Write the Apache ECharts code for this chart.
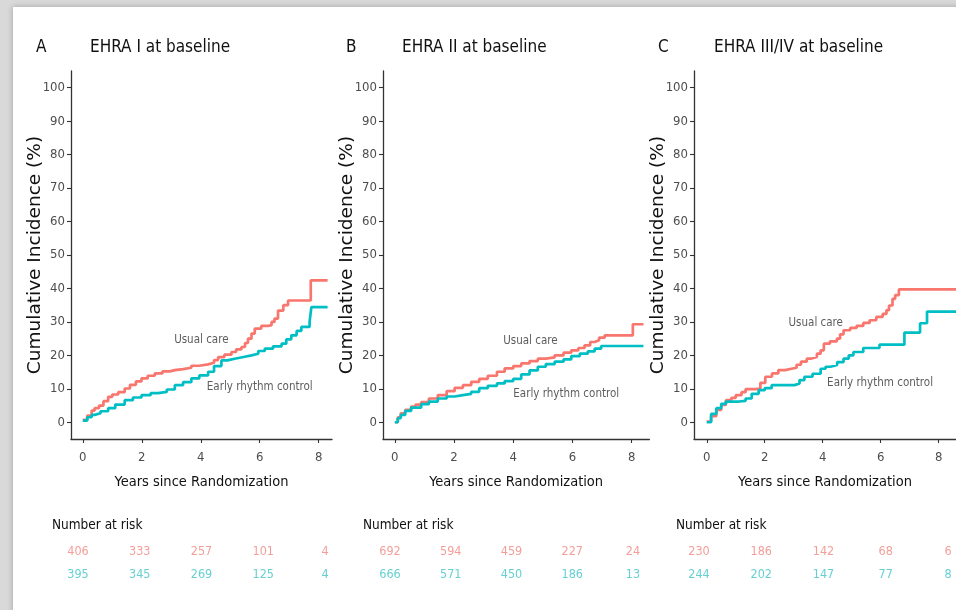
<!DOCTYPE html>
<html>
<head>
<meta charset="utf-8">
<script src="https://cdn.jsdelivr.net/npm/echarts@6/dist/echarts.min.js"></script>
<style>
html,body{margin:0;padding:0;background:#d9d9d9;}
#chart{width:956px;height:610px;}
</style>
</head>
<body>
<div id="chart"></div>
<script>
// ---------- data ----------
const xTicks = [0, 2, 4, 6, 8];
const yTicks = [0, 10, 20, 30, 40, 50, 60, 70, 80, 90, 100];
const panelLetters = ['A', 'B', 'C'];
const panelTitles = ['EHRA I at baseline', 'EHRA II at baseline', 'EHRA III/IV at baseline'];
const groupNames = ['Usual care', 'Early rhythm control'];

// Panel A – EHRA I
const aUsualTime = [0,0.15,0.3,0.4,0.55,0.7,0.86,1.0,1.2,1.42,1.6,1.8,1.99,2.2,2.44,2.7,2.95,3.12,3.4,3.68,3.95,4.25,4.45,4.59,4.8,5.04,5.2,5.38,5.5,5.6,5.72,5.83,6.05,6.28,6.4,6.5,6.62,6.8,6.96,7.73,8.3];
const aUsualPct  = [0.7,2.0,3.5,4.2,5.0,6.3,7.6,8.3,9.0,10.1,11.2,12.2,13.1,13.9,14.6,15.2,15.6,15.9,16.3,16.9,17.3,17.8,18.6,19.5,20.2,21.0,21.8,22.5,23.7,25.0,26.5,28.0,28.8,29.0,30.0,31.0,33.4,35.0,36.4,42.4,42.4];
const aEarlyTime = [0,0.15,0.3,0.4,0.6,0.86,1.1,1.42,1.7,1.99,2.3,2.55,2.85,3.12,3.4,3.68,3.95,4.25,4.45,4.7,4.9,5.15,5.45,5.72,5.95,6.17,6.45,6.74,6.9,7.07,7.25,7.41,7.69,7.75,8.3];
const aEarlyPct  = [0.5,1.5,2.2,2.7,3.3,4.2,5.3,6.6,7.4,8.1,8.7,9.1,9.8,11.1,12.0,13.1,14.0,15.1,16.8,18.5,19.0,19.5,20.0,20.5,21.3,22.0,22.7,23.5,24.8,26.0,27.3,28.5,30.0,34.4,34.4];
const aRiskUsual = [406, 333, 257, 101, 4];
const aRiskEarly = [395, 345, 269, 125, 4];

// Panel B – EHRA II
const bUsualTime = [0,0.1,0.2,0.35,0.55,0.7,0.89,1.15,1.45,1.75,2.02,2.3,2.58,2.85,3.14,3.45,3.71,4.0,4.27,4.55,4.83,5.1,5.4,5.7,5.96,6.2,6.41,6.6,6.75,6.9,7.09,8.04,8.4];
const bUsualPct  = [0,1.5,2.7,3.7,4.7,5.3,6.0,7.1,8.1,9.3,10.3,11.1,12.1,13.0,13.9,15.1,16.1,16.8,17.6,18.3,19.0,19.4,20.0,20.8,21.5,22.2,23.0,24.0,24.5,25.3,26.0,29.3,29.3];
const bEarlyTime = [0,0.1,0.2,0.35,0.55,0.89,1.15,1.45,1.75,2.02,2.3,2.58,2.85,3.14,3.45,3.71,4.0,4.27,4.55,4.83,5.1,5.4,5.7,5.96,6.25,6.52,6.75,6.97,8.4];
const bEarlyPct  = [0,1.2,2.2,3.4,4.4,5.4,6.2,7.1,7.7,8.1,8.5,9.1,10.2,10.9,11.6,12.3,13.0,14.3,15.5,16.6,17.4,18.1,18.8,19.8,20.5,21.2,22.0,22.8,22.8];
const bRiskUsual = [692, 594, 459, 227, 24];
const bRiskEarly = [666, 571, 450, 186, 13];

// Panel C – EHRA III/IV
const cUsualTime = [0,0.15,0.33,0.5,0.66,0.85,1.0,1.2,1.34,1.68,1.85,2.02,2.25,2.47,2.7,2.92,3.1,3.25,3.45,3.59,3.8,3.93,4.04,4.25,4.49,4.6,4.72,4.95,5.17,5.4,5.62,5.85,6.07,6.2,6.29,6.41,6.5,6.63,8.7];
const cUsualPct  = [0.2,1.8,3.7,5.2,6.6,7.3,8.1,9.0,9.9,10.1,11.8,13.6,14.6,15.6,16.0,16.3,17.2,18.1,19.0,19.5,20.5,21.5,23.5,24.2,25.0,26.3,27.5,28.2,28.8,29.7,30.5,31.5,32.4,33.5,34.9,36.9,38.0,39.7,39.7];
const cEarlyTime = [0,0.15,0.33,0.5,0.66,1.11,1.34,1.55,1.79,2.0,2.24,3.03,3.2,3.37,3.65,3.93,4.1,4.27,4.5,4.72,4.9,5.06,5.4,5.96,6.82,7.36,7.6,8.7];
const cEarlyPct  = [0,2.5,4.2,5.5,6.2,6.4,7.1,8.5,9.6,10.2,11.1,11.6,12.6,13.6,14.5,16.0,16.6,17.1,18.0,19.0,20.0,21.0,22.2,23.2,26.8,29.6,33.1,33.1];
const cRiskUsual = [230, 186, 142, 68, 6];
const cRiskEarly = [244, 202, 147, 77, 8];

const riskTimes = [0, 2, 4, 6, 8];

// ---------- styling / layout ----------
const RED = '#F8766D';
const TEAL = '#00BFC4';
const RED_TXT = '#F0867E';
const TEAL_TXT = '#3EC3C6';
const NARROW = "'Liberation Sans Narrow', 'DejaVu Sans Condensed', 'Liberation Sans', sans-serif";
const WIDE = "'DejaVu Sans', 'Liberation Sans', sans-serif";
const AXIS_COL = '#333333';

const panels = [
  {usualT: aUsualTime, usualV: aUsualPct, earlyT: aEarlyTime, earlyV: aEarlyPct, riskU: aRiskUsual, riskE: aRiskEarly,
   grid: {left: 71, top: 71, width: 261, height: 368}, xMin: -0.4, xMax: 8.45,
   table: {left: 78, width: 247}, letterX: 36, titleX: 90, narX: 52,
   usualLab: [4.02, 24.5], earlyLab: [6.0, 10.6]},
  {usualT: bUsualTime, usualV: bUsualPct, earlyT: bEarlyTime, earlyV: bEarlyPct, riskU: bRiskUsual, riskE: bRiskEarly,
   grid: {left: 383, top: 71, width: 266.4, height: 368}, xMin: -0.4, xMax: 8.6,
   table: {left: 390, width: 243}, letterX: 346, titleX: 402, narX: 363,
   usualLab: [4.58, 24.3], earlyLab: [5.79, 8.4]},
  {usualT: cUsualTime, usualV: cUsualPct, earlyT: cEarlyTime, earlyV: cEarlyPct, riskU: cRiskUsual, riskE: cRiskEarly,
   grid: {left: 694, top: 71, width: 267.6, height: 368}, xMin: -0.44, xMax: 8.6,
   table: {left: 699, width: 249}, letterX: 658, titleX: 714, narX: 676,
   usualLab: [3.76, 29.8], earlyLab: [5.98, 11.6]}
];

const grids = [], xAxes = [], yAxes = [], series = [], titles = [];

panels.forEach((p, i) => {
  // plot grid
  const gi = grids.length;
  grids.push(Object.assign({containLabel: false}, p.grid));
  xAxes.push({
    gridIndex: gi, type: 'value', min: p.xMin, max: p.xMax,
    axisLine: {show: true, onZero: false, lineStyle: {color: AXIS_COL, width: 1.3}},
    axisTick: {show: true, length: 4, customValues: xTicks, lineStyle: {color: AXIS_COL, width: 1.1}},
    axisLabel: {customValues: xTicks, fontSize: 13, color: '#4d4d4d', fontFamily: NARROW, margin: 12},
    splitLine: {show: false},
    name: 'Years since Randomization', nameLocation: 'middle', nameGap: 36, nameMoveOverlap: false,
    nameTextStyle: {fontSize: 14.5, color: '#111', fontFamily: NARROW}
  });
  yAxes.push({
    gridIndex: gi, type: 'value', min: -5, max: 105,
    axisLine: {show: true, onZero: false, lineStyle: {color: AXIS_COL, width: 1.3}},
    axisTick: {show: true, length: 4, customValues: yTicks, lineStyle: {color: AXIS_COL, width: 1.1}},
    axisLabel: {customValues: yTicks, fontSize: 13, color: '#4d4d4d', fontFamily: NARROW, margin: 6},
    splitLine: {show: false},
    name: 'Cumulative Incidence (%)', nameLocation: 'middle', nameGap: 26, nameMoveOverlap: false,
    nameTextStyle: {fontSize: 18.5, color: '#111', fontFamily: WIDE}
  });
  series.push({
    type: 'line', name: groupNames[0], xAxisIndex: gi, yAxisIndex: gi, step: 'end',
    showSymbol: false, symbol: 'none', silent: true,
    lineStyle: {color: RED, width: 2.7}, z: 3,
    data: p.usualT.map((t, k) => [t, p.usualV[k]])
  });
  series.push({
    type: 'line', name: groupNames[1], xAxisIndex: gi, yAxisIndex: gi, step: 'end',
    showSymbol: false, symbol: 'none', silent: true,
    lineStyle: {color: TEAL, width: 2.7}, z: 4,
    data: p.earlyT.map((t, k) => [t, p.earlyV[k]])
  });
  // in-plot annotations
  series.push({
    type: 'scatter', xAxisIndex: gi, yAxisIndex: gi, symbolSize: 0, silent: true, z: 5,
    data: [
      {value: p.usualLab, name: groupNames[0]},
      {value: p.earlyLab, name: groupNames[1]}
    ],
    label: {show: true, position: 'inside', formatter: '{b}', fontSize: 11.5, color: '#333', fontFamily: NARROW}
  });

  // number-at-risk table grid
  const ti = grids.length;
  grids.push({left: p.table.left, width: p.table.width, top: 552, height: 22.5, containLabel: false});
  xAxes.push({gridIndex: ti, type: 'value', min: 0, max: 8, show: false});
  yAxes.push({gridIndex: ti, type: 'value', min: 0, max: 1, show: false});
  series.push({
    type: 'scatter', xAxisIndex: ti, yAxisIndex: ti, symbolSize: 0, silent: true,
    data: riskTimes.map((t, k) => [t, 1, p.riskU[k]]),
    label: {show: true, position: 'inside', formatter: d => String(d.value[2]), fontSize: 12.5, color: RED_TXT, fontFamily: NARROW}
  });
  series.push({
    type: 'scatter', xAxisIndex: ti, yAxisIndex: ti, symbolSize: 0, silent: true,
    data: riskTimes.map((t, k) => [t, 0, p.riskE[k]]),
    label: {show: true, position: 'inside', formatter: d => String(d.value[2]), fontSize: 12.5, color: TEAL_TXT, fontFamily: NARROW}
  });

  // titles
  const ts = {fontSize: 17, fontWeight: 'normal', color: '#111', fontFamily: NARROW};
  titles.push({text: panelLetters[i], left: p.letterX, top: 39, padding: 0, textStyle: ts});
  titles.push({text: panelTitles[i], left: p.titleX, top: 39, padding: 0, textStyle: ts});
  titles.push({text: 'Number at risk', left: p.narX, top: 518, padding: 0,
    textStyle: {fontSize: 13.5, fontWeight: 'normal', color: '#111', fontFamily: NARROW}});
});

const chart = echarts.init(document.getElementById('chart'), null, {renderer: 'canvas'});
chart.setOption({
  animation: false,
  backgroundColor: '#d9d9d9',
  graphic: [{
    type: 'rect', left: 13, top: 7, z: -10, silent: true,
    shape: {width: 960, height: 620},
    style: {fill: '#ffffff', shadowBlur: 6, shadowColor: 'rgba(0,0,0,0.25)', shadowOffsetX: 0, shadowOffsetY: 0}
  }],
  title: titles,
  grid: grids,
  xAxis: xAxes,
  yAxis: yAxes,
  series: series
});
</script>
</body>
</html>
